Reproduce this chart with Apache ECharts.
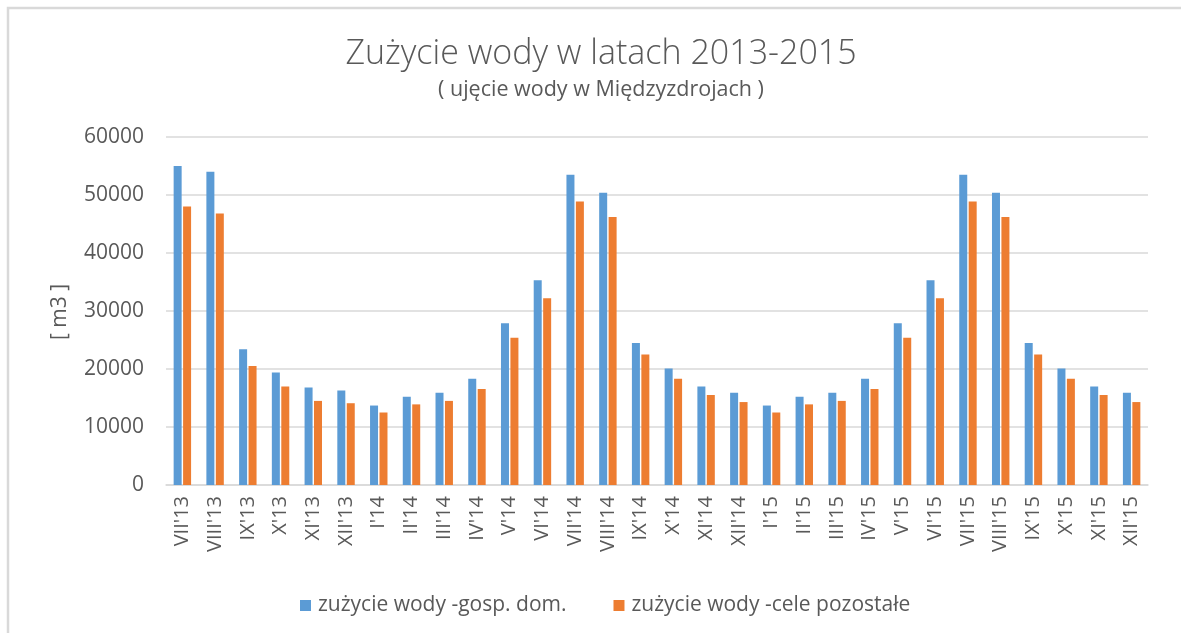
<!DOCTYPE html>
<html>
<head>
<meta charset="utf-8">
<script src="https://cdn.jsdelivr.net/npm/echarts@6/dist/echarts.min.js"></script>
<style>
html,body{margin:0;padding:0;background:#fff;}
#chart{width:1181px;height:633px;}
</style>
</head>
<body>
<div id="chart"></div>
<script>
const categories = ["VII'13","VIII'13","IX'13","X'13","XI'13","XII'13","I'14","II'14","III'14","IV'14","V'14","VI'14","VII'14","VIII'14","IX'14","X'14","XI'14","XII'14","I'15","II'15","III'15","IV'15","V'15","VI'15","VII'15","VIII'15","IX'15","X'15","XI'15","XII'15"];
const gospDom = [55000,54000,23400,19400,16800,16300,13700,15200,15900,18300,27900,35300,53500,50400,24500,20100,17000,15900,13700,15200,15900,18300,27900,35300,53500,50400,24500,20100,17000,15900];
const celePozostale = [48000,46800,20500,17000,14500,14100,12500,13900,14500,16550,25400,32200,48900,46200,22500,18300,15500,14300,12500,13900,14500,16550,25400,32200,48900,46200,22500,18300,15500,14300];
const seriesNames = ['zużycie wody -gosp. dom.','zużycie wody -cele pozostałe'];
const titleText = 'Zużycie wody w latach 2013-2015';
const subtitleText = '( ujęcie wody w Międzyzdrojach )';
const yAxisName = '[ m3 ]';

const FONT = '"Open Sans", Lato, sans-serif';
const TXT = '#595959';
const chart = echarts.init(document.getElementById('chart'));
chart.setOption({
  backgroundColor: '#ffffff',
  animation: false,
  graphic: [
    {type:'rect', shape:{x:8, y:8, width:1200, height:700}, style:{fill:'none', stroke:'#d9d9d9', lineWidth:2.5}, silent:true},
    {type:'text', style:{text:titleText, x:601, y:54, textAlign:'center', textVerticalAlign:'middle', font:'300 34px ' + FONT, fill:TXT}},
    {type:'text', style:{text:subtitleText, x:601, y:90, textAlign:'center', textVerticalAlign:'middle', font:'21.5px ' + FONT, fill:TXT}},
    {type:'text', style:{text:yAxisName, x:60, y:312, textAlign:'center', textVerticalAlign:'middle', font:'21px ' + FONT, fill:TXT}, rotation: Math.PI/2, originX:60, originY:312}
  ],
  legend: {
    left: 295, top: 590,
    itemWidth: 11, itemHeight: 11, itemGap: 47,
    icon: 'rect',
    textStyle: {fontFamily: FONT, fontSize: 21, color: TXT, padding:[0,0,0,2]},
    data: seriesNames
  },
  grid: {left: 166, right: 33, top: 137, bottom: 148, containLabel: false},
  xAxis: {
    type: 'category', data: categories,
    axisLine: {lineStyle: {color: '#d9d9d9', width: 1.5}},
    axisTick: {show: false},
    axisLabel: {rotate: 90, margin: 11, fontFamily: FONT, fontSize: 20, color: TXT, interval: 0}
  },
  yAxis: {
    type: 'value', min: 0, max: 60000, interval: 10000,
    axisLine: {show: false}, axisTick: {show: false},
    splitLine: {lineStyle: {color: '#d9d9d9', width: 1.5}},
    axisLabel: {margin: 22, fontFamily: FONT, fontSize: 21, color: TXT, formatter: function (v) { return String(v); }}
  },
  series: [
    {name: seriesNames[0], type: 'bar', data: gospDom, barWidth: 8, barGap: '18%', itemStyle: {color: '#5b9bd5'}},
    {name: seriesNames[1], type: 'bar', data: celePozostale, barWidth: 8, itemStyle: {color: '#ed7d31'}}
  ]
});
</script>
</body>
</html>
